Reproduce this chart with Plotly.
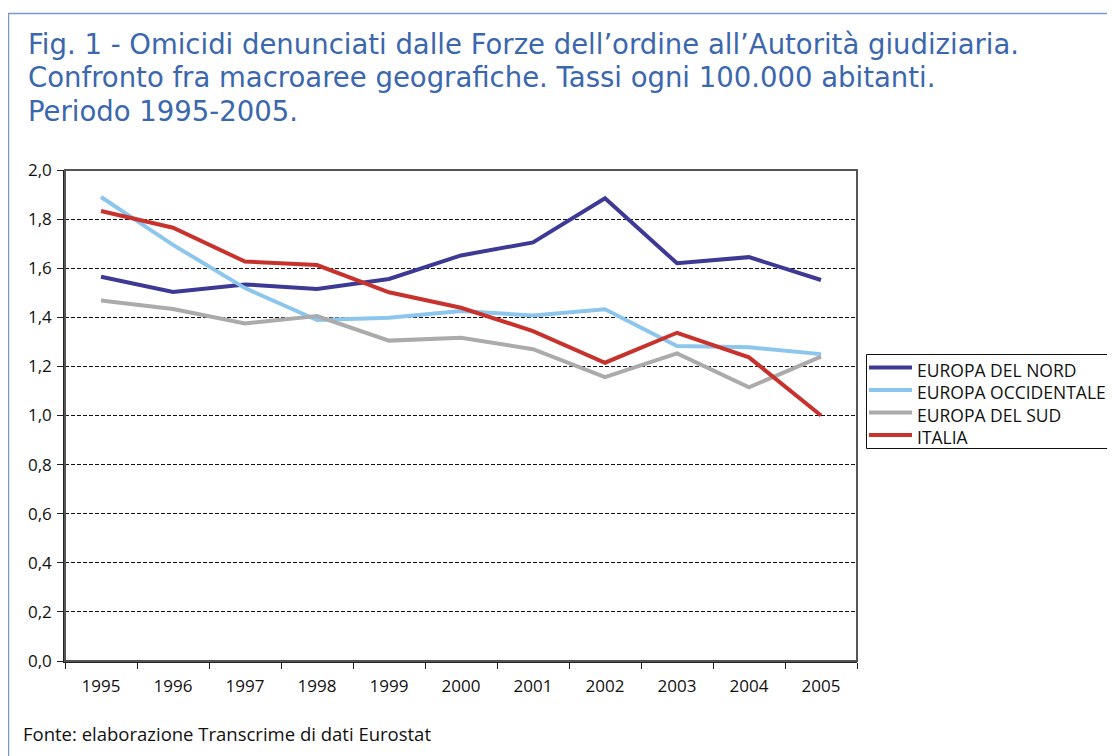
import plotly.graph_objects as go

years = ["1995", "1996", "1997", "1998", "1999", "2000", "2001", "2002", "2003", "2004", "2005"]
europa_nord = [1.565, 1.503, 1.534, 1.515, 1.556, 1.652, 1.705, 1.885, 1.620, 1.645, 1.552]
europa_occ = [1.890, 1.695, 1.519, 1.389, 1.398, 1.426, 1.407, 1.433, 1.283, 1.278, 1.250]
europa_sud = [1.468, 1.434, 1.375, 1.405, 1.305, 1.317, 1.270, 1.156, 1.253, 1.115, 1.240]
italia = [1.833, 1.765, 1.627, 1.613, 1.502, 1.439, 1.344, 1.215, 1.337, 1.237, 1.000]

series_names = ["EUROPA DEL NORD", "EUROPA OCCIDENTALE", "EUROPA DEL SUD", "ITALIA"]
series_values = [europa_nord, europa_occ, europa_sud, italia]
series_colors = ["#3C3A95", "#8DC6EC", "#ABABAB", "#C8322D"]

title_lines = [
    "Fig. 1 - Omicidi denunciati dalle Forze dell\u2019ordine all\u2019Autorit\u00e0 giudiziaria.",
    "Confronto fra macroaree geografiche. Tassi ogni 100.000 abitanti.",
    "Periodo 1995-2005.",
]
source_text = "Fonte: elaborazione Transcrime di dati Eurostat"

# page body has an 8px margin; work in figure coordinates = page - 8
OFF = 8
W, H = 1115 - OFF, 756 - OFF
L, R, T, B = 65 - OFF, 857 - OFF, 170 - OFF, 661 - OFF


def px(x_page):
    return (x_page - OFF - L) / (R - L)


def py(y_page):
    return (B - (y_page - OFF)) / (B - T)


fig = go.Figure()
for name, vals, col in zip(series_names, series_values, series_colors):
    fig.add_trace(go.Scatter(x=years, y=vals, name=name, mode="lines",
                             line=dict(color=col, width=4), showlegend=False))

FONT = "Open Sans, Lato, sans-serif"
tick_font = dict(family=FONT, size=17, color="#111111")

fig.update_layout(
    width=W, height=H,
    margin=dict(l=L, r=W - R, t=T, b=H - B, pad=0),
    paper_bgcolor="white", plot_bgcolor="white",
    separators=",.",
    showlegend=False,
    xaxis=dict(type="category", range=[-0.5, 10.5], showgrid=False,
               showline=True, linecolor="#222222", linewidth=1.5,
               ticks="outside", ticklen=6, tickcolor="#222222", tickson="boundaries",
               tickfont=tick_font, ticklabelstandoff=9, zeroline=False),
    yaxis=dict(range=[0, 2.0], dtick=0.2, tick0=0, tickformat=".1f",
               showgrid=True, gridcolor="#111111", gridwidth=1, griddash="4px,2px",
               showline=True, linecolor="#222222", linewidth=1.5,
               ticks="outside", ticklen=6, tickcolor="#222222",
               tickfont=tick_font, ticklabelstandoff=2, zeroline=False),
)

# plot frame (top/right gray)
fig.add_shape(type="rect", xref="paper", yref="paper", x0=0, x1=1, y0=0, y1=1,
              line=dict(color="#555555", width=2), layer="above")

# outer blue frame (top and left edges)
fig.add_shape(type="line", xref="paper", yref="paper", x0=px(8), x1=px(1130), y0=py(13.5), y1=py(13.5),
              line=dict(color="#7A97CF", width=1.5))
fig.add_shape(type="line", xref="paper", yref="paper", x0=px(8.5), x1=px(8.5), y0=py(13), y1=py(780),
              line=dict(color="#7A97CF", width=1.5))

title_centers = [44, 77.5, 110.5]
for line, yc in zip(title_lines, title_centers):
    fig.add_annotation(text=line, xref="paper", yref="paper", x=px(25.5), y=py(yc),
                       xanchor="left", yanchor="middle", showarrow=False,
                       font=dict(family="DejaVu Sans, Verdana, sans-serif", size=27.5, color="#3A67AE"))

fig.add_annotation(text=source_text, xref="paper", yref="paper", x=px(20.5), y=py(733),
                   xanchor="left", yanchor="middle", showarrow=False,
                   font=dict(family=FONT, size=18.5, color="#111111"))

# legend drawn by hand (box clipped by the page edge as in the original)
fig.add_shape(type="rect", xref="paper", yref="paper", x0=px(866.5), x1=px(1140), y0=py(354.5), y1=py(448.5),
              line=dict(color="#111111", width=1), fillcolor="white", layer="above")
legend_text_y = [369.5, 392, 414.5, 437]
for name, col, ty in zip(series_names, series_colors, legend_text_y):
    fig.add_shape(type="line", xref="paper", yref="paper", x0=px(869), x1=px(912), y0=py(ty - 2), y1=py(ty - 2),
                  line=dict(color=col, width=4), layer="above")
    fig.add_annotation(text=name, xref="paper", yref="paper", x=px(914.5), y=py(ty),
                       xanchor="left", yanchor="middle", showarrow=False,
                       font=dict(family=FONT, size=17.5, color="#111111"))

fig.write_html("out.html")
